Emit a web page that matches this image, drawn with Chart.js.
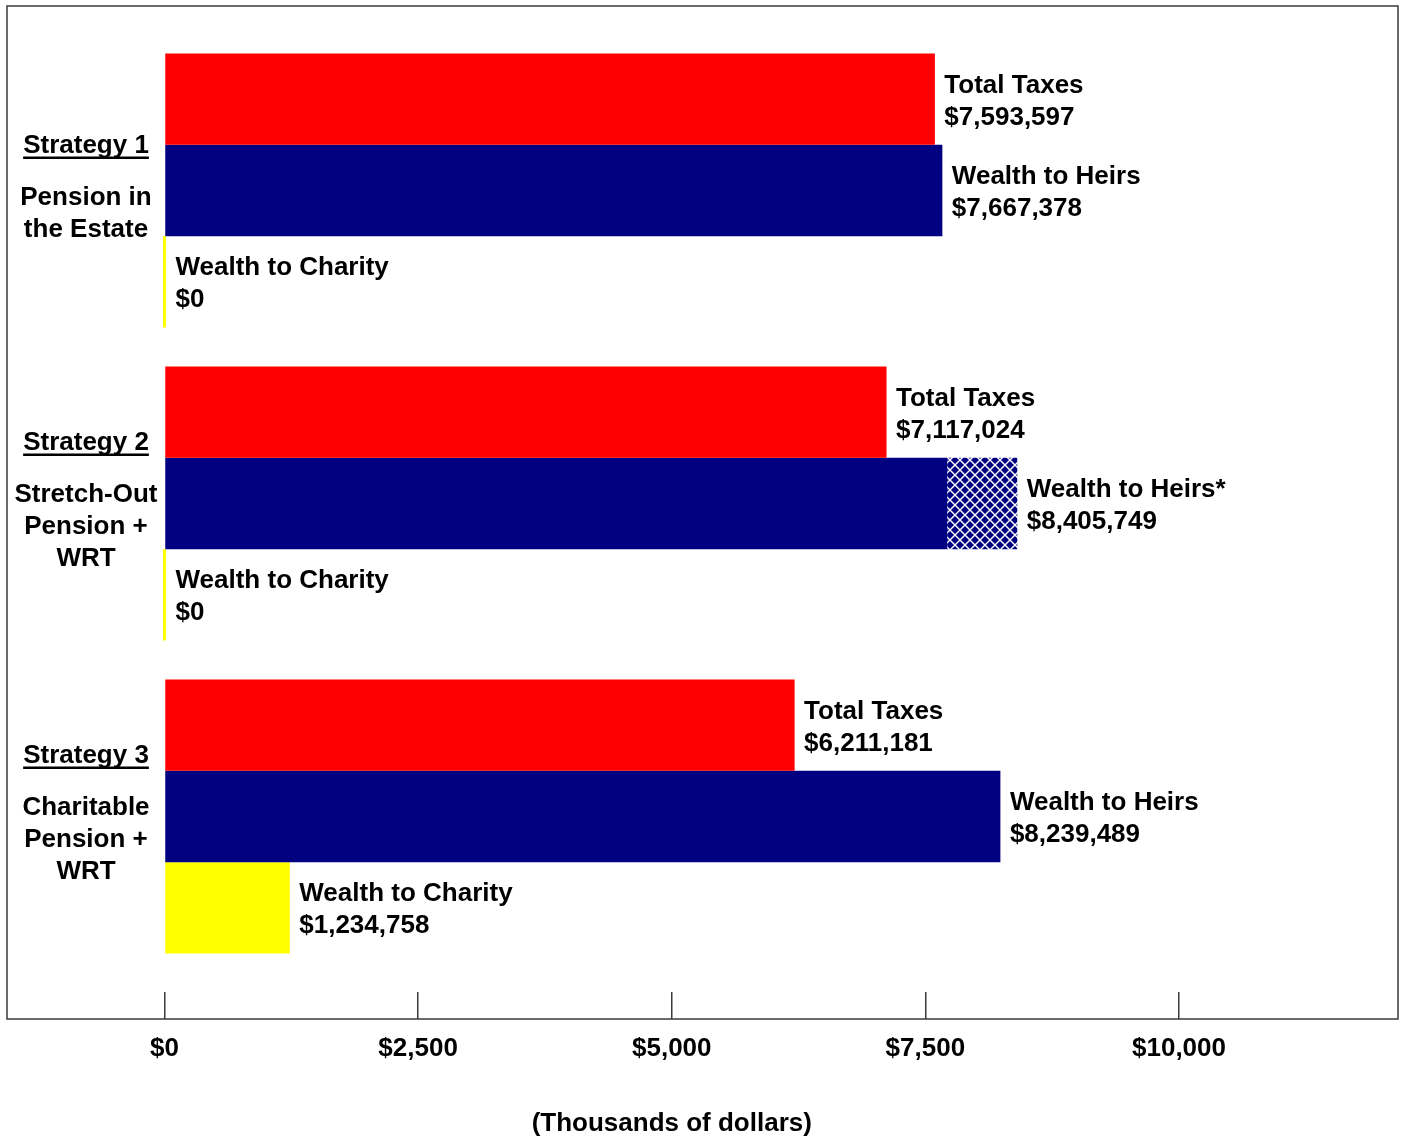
<!DOCTYPE html>
<html>
<head>
<meta charset="utf-8">
<title>Strategies</title>
<script src="https://cdn.jsdelivr.net/npm/chart.js@4/dist/chart.umd.min.js"></script>
<style>
  html, body { margin: 0; padding: 0; background: #fff; }
  #wrap { width: 1403px; height: 1137px; position: relative; }
</style>
</head>
<body>
<div id="wrap"><canvas id="chart"></canvas></div>
<script>
// values in thousands of dollars
const strategyTitles = ['Strategy 1', 'Strategy 2', 'Strategy 3'];
const strategyLines = [
    ['Pension in', 'the Estate'],
    ['Stretch-Out', 'Pension +', 'WRT'],
    ['Charitable', 'Pension +', 'WRT']
];
const strategyPos = [1, 2, 3];
const totalTaxes = [7593.597, 7117.024, 6211.181];
const wealthToHeirs = [7667.378, 8405.749, 8239.489];
const heirsHatchFrom = [null, 7715, null];
const wealthToCharity = [0, 0, 1234.758];
const heirsNames = ['Wealth to Heirs', 'Wealth to Heirs*', 'Wealth to Heirs'];
const xTicks = [0, 2500, 5000, 7500, 10000];
const xTitle = '(Thousands of dollars)';

const FONT = '"Liberation Sans", Arial, Helvetica, sans-serif';
Chart.defaults.font.family = FONT;
Chart.defaults.color = '#000';

// solid part of the heirs bar, then the hatched remainder stacked on it
const heirsSolid = wealthToHeirs.map((v, i) => heirsHatchFrom[i] == null ? v : heirsHatchFrom[i]);
const heirsHatched = wealthToHeirs.map((v, i) => v - heirsSolid[i]);

function points(values) {
    return values.map((v, i) => ({ x: v, y: strategyPos[i] }));
}

function money(v) {
    return '$' + Math.round(v * 1000).toLocaleString('en-US');
}

function makeHatch() {
    const c = document.createElement('canvas');
    c.width = 10; c.height = 10;
    const g = c.getContext('2d');
    g.fillStyle = '#000080';
    g.fillRect(0, 0, 10, 10);
    g.strokeStyle = '#ffffff';
    g.lineWidth = 1.4;
    g.beginPath();
    g.moveTo(-1, -1); g.lineTo(11, 11);
    g.moveTo(11, -1); g.lineTo(-1, 11);
    g.stroke();
    return g.createPattern(c, 'repeat');
}

// outer box plus the axis caption, centred under the middle tick
const framePlugin = {
    id: 'frame',
    afterDraw(chart) {
        const { ctx, chartArea: a } = chart;
        ctx.save();
        ctx.strokeStyle = '#3a3a3a';
        ctx.lineWidth = 1.5;
        ctx.strokeRect(a.left, a.top, a.right - a.left, a.bottom - a.top);
        ctx.font = 'bold 26px ' + FONT;
        ctx.fillStyle = '#000';
        ctx.textAlign = 'center';
        ctx.textBaseline = 'middle';
        ctx.fillText(xTitle, chart.scales.x.getPixelForValue(xTicks[2]), a.bottom + 105);
        ctx.restore();
    }
};

const strategyLabels = {
    id: 'strategyLabels',
    afterDraw(chart) {
        const { ctx, chartArea: a } = chart;
        const yScale = chart.scales.y;
        const cx = a.left + 79;
        ctx.save();
        ctx.font = 'bold 26px ' + FONT;
        ctx.fillStyle = '#000';
        ctx.textAlign = 'center';
        ctx.textBaseline = 'middle';
        strategyTitles.forEach((title, i) => {
            const lines = strategyLines[i];
            const span = 52 + 32 * (lines.length - 1);
            let y = yScale.getPixelForValue(strategyPos[i]) - 3 - span / 2;
            ctx.fillText(title, cx, y);
            const w = ctx.measureText(title).width;
            ctx.fillRect(cx - w / 2, y + 11, w, 2.5);
            y += 52;
            lines.forEach(line => {
                ctx.fillText(line, cx, y);
                y += 32;
            });
        });
        ctx.restore();
    }
};

const barLabels = {
    id: 'barLabels',
    afterDatasetsDraw(chart) {
        const ctx = chart.ctx;
        const groups = [
            { ds: 0, names: ['Total Taxes', 'Total Taxes', 'Total Taxes'], values: totalTaxes },
            { ds: 2, names: heirsNames, values: wealthToHeirs },
            { ds: 3, names: ['Wealth to Charity', 'Wealth to Charity', 'Wealth to Charity'], values: wealthToCharity }
        ];
        ctx.save();
        ctx.font = 'bold 26px ' + FONT;
        ctx.fillStyle = '#000';
        ctx.textAlign = 'left';
        ctx.textBaseline = 'middle';
        groups.forEach(g => {
            chart.getDatasetMeta(g.ds).data.forEach((bar, i) => {
                const x = Math.max(bar.x, bar.base) + 9.5;
                ctx.fillText(g.names[i], x, bar.y - 13.5);
                ctx.fillText(money(g.values[i]), x, bar.y + 18.5);
            });
        });
        ctx.restore();
    }
};

const barStyle = { borderWidth: 0, categoryPercentage: 0.875, barPercentage: 1 };

new Chart(document.getElementById('chart'), {
    type: 'bar',
    data: {
        datasets: [
            { label: 'Total Taxes', data: points(totalTaxes), stack: 'taxes', backgroundColor: '#ff0000', ...barStyle },
            { label: 'Wealth to Heirs', data: points(heirsSolid), stack: 'heirs', backgroundColor: '#000080', ...barStyle },
            { label: 'Wealth to Heirs*', data: points(heirsHatched), stack: 'heirs', backgroundColor: makeHatch(), ...barStyle },
            { label: 'Wealth to Charity', data: points(wealthToCharity), stack: 'charity', backgroundColor: '#ffff00', minBarLength: 3, ...barStyle }
        ]
    },
    options: {
        indexAxis: 'y',
        responsive: true,
        maintainAspectRatio: false,
        animation: false,
        layout: { padding: { left: 7, right: 5, top: 6, bottom: 31.8 } },
        plugins: {
            legend: { display: false },
            tooltip: { enabled: false }
        },
        scales: {
            y: {
                type: 'linear',
                display: false,
                reverse: true,
                stacked: true,
                offset: false,
                min: 0.4105,
                max: 3.647,
                afterBuildTicks(scale) {
                    scale.ticks = strategyPos.map(v => ({ value: v }));
                }
            },
            x: {
                type: 'linear',
                stacked: true,
                min: -1552.5,
                max: 12158.7,
                afterBuildTicks(scale) {
                    scale.ticks = xTicks.map(v => ({ value: v }));
                },
                border: { display: false },
                grid: {
                    drawOnChartArea: false,
                    drawTicks: true,
                    tickLength: -27,
                    color: '#3a3a3a',
                    lineWidth: 1.5
                },
                ticks: {
                    padding: 41,
                    color: '#000',
                    font: { size: 26, weight: 'bold', lineHeight: 1.2 },
                    callback: v => '$' + v.toLocaleString('en-US')
                }
            }
        }
    },
    plugins: [framePlugin, strategyLabels, barLabels]
});
</script>
</body>
</html>
